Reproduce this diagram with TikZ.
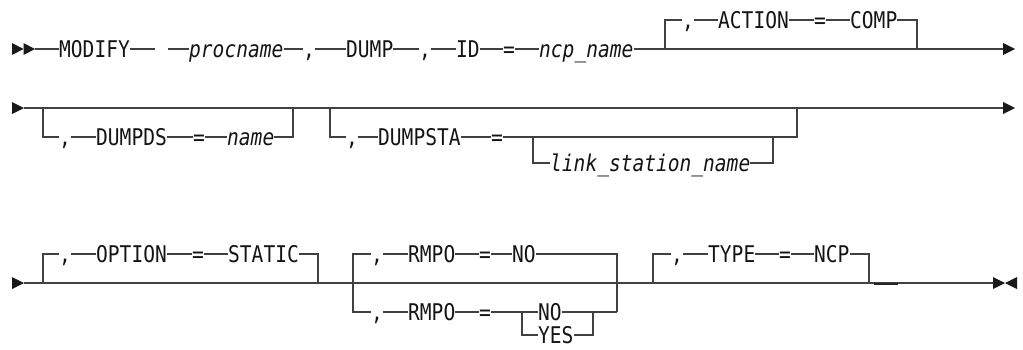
\documentclass[tikz,border=0pt]{standalone}
\usepackage{fontspec}
\newfontfamily\rrfont[FakeStretch=0.85]{DejaVu Sans Mono}
\begin{document}
\begin{tikzpicture}[x=1pt,y=-1pt,
  rr/.style={line width=1.1pt, draw=black!75},
  kw/.style={inner sep=0pt, text height=16.6pt, text depth=0pt, text=black!92,
    font={\rrfont\fontsize{23}{25}\selectfont}, anchor=west},
  var/.style={kw, font={\rrfont\itshape\fontsize{23}{25}\selectfont}},
  sym/.style={kw, anchor=center},
  tri/.style={fill=black!90, draw=none}]
\useasboundingbox (0,0) rectangle (1023,349);

% ---------------- Row 1 ----------------
\fill[tri] (12,43)--(23.5,49)--(12,55)--cycle;
\fill[tri] (23.5,43)--(35,49)--(23.5,55)--cycle;
\coordinate (s1) at (35,49);
\node[kw] (modify) at (59,49) {MODIFY};
\coordinate (g1a) at (155,49);
\coordinate (g1b) at (168,49);
\node[var] (procname) at (189,49) {procname};
\node[sym] (c1) at (309,49) {,};
\node[kw] (dump) at (346,49) {DUMP};
\node[sym] (c2) at (425,49) {,};
\node[kw] (id) at (456,49) {ID};
\node[sym] (e1) at (509,49) {=};
\node[var] (ncp) at (539,49) {ncp\_name};
\coordinate (end1) at (1003,49);
\draw[rr] (s1) -- (modify);
\draw[rr] (modify) -- (g1a);
\draw[rr] (g1b) -- (procname);
\draw[rr] (procname) -- (c1);
\draw[rr] (c1) -- (dump);
\draw[rr] (dump) -- (c2);
\draw[rr] (c2) -- (id);
\draw[rr] (id) -- (e1);
\draw[rr] (e1) -- (ncp);
\draw[rr] (ncp) -- (end1);
\fill[tri] (1003,43)--(1015,49)--(1003,55)--cycle;
% ACTION branch
\coordinate (b1l) at (665,49);
\coordinate (b1lt) at (665,20);
\coordinate (b1rt) at (917,20);
\coordinate (b1r) at (917,49);
\node[sym] (c3) at (688,20) {,};
\node[kw] (action) at (718,20) {ACTION};
\node[sym] (e2) at (820,20) {=};
\node[kw] (comp) at (850,20) {COMP};
\draw[rr] (b1l) -- (b1lt) -- (c3);
\draw[rr] (c3) -- (action);
\draw[rr] (action) -- (e2);
\draw[rr] (e2) -- (comp);
\draw[rr] (comp) -- (b1rt) -- (b1r);

% ---------------- Row 2 ----------------
\fill[tri] (12,102)--(24,108)--(12,114)--cycle;
\coordinate (s2) at (24,108);
\coordinate (end2) at (1003,108);
\draw[rr] (s2) -- (end2);
\fill[tri] (1003,102)--(1015,108)--(1003,114)--cycle;
% DUMPDS branch
\coordinate (b2l) at (43,108);
\coordinate (b2lb) at (43,137);
\coordinate (b2rb) at (293,137);
\coordinate (b2r) at (293,108);
\node[sym] (c4) at (65,137) {,};
\node[kw] (dumpds) at (96,137) {DUMPDS};
\node[sym] (e3) at (199,137) {=};
\node[var] (name) at (227,137) {name};
\draw[rr] (b2l) -- (b2lb) -- (c4);
\draw[rr] (c4) -- (dumpds);
\draw[rr] (dumpds) -- (e3);
\draw[rr] (e3) -- (name);
\draw[rr] (name) -- (b2rb) -- (b2r);
% DUMPSTA branch
\coordinate (b3l) at (330,108);
\coordinate (b3lb) at (330,137);
\coordinate (b3rb) at (797,137);
\coordinate (b3r) at (797,108);
\node[sym] (c5) at (352,137) {,};
\node[kw] (dumpsta) at (378,137) {DUMPSTA};
\node[sym] (e4) at (497,137) {=};
\draw[rr] (b3l) -- (b3lb) -- (c5);
\draw[rr] (c5) -- (dumpsta);
\draw[rr] (dumpsta) -- (e4);
\draw[rr] (e4) -- (b3rb) -- (b3r);
% link_station_name
\coordinate (b4l) at (533,137);
\coordinate (b4lb) at (533,163);
\coordinate (b4rb) at (773,163);
\coordinate (b4r) at (773,137);
\node[var] (lsn) at (550,163) {link\_station\_name};
\draw[rr] (b4l) -- (b4lb) -- (lsn);
\draw[rr] (lsn) -- (b4rb) -- (b4r);

% ---------------- Row 3 ----------------
\fill[tri] (12,277)--(24,283)--(12,289)--cycle;
\coordinate (s3) at (24,283);
\coordinate (end3) at (993,283);
\draw[rr] (s3) -- (end3);
\fill[tri] (993,277)--(1005,283)--(993,289)--cycle;
\fill[tri] (1017,277)--(1005,283)--(1017,289)--cycle;
\draw[line width=2pt, black!85] (874,284) -- (898,284);
% OPTION branch
\coordinate (b5l) at (43,283);
\coordinate (b5lt) at (43,254);
\coordinate (b5rt) at (318,254);
\coordinate (b5r) at (318,283);
\node[sym] (c6) at (65,254) {,};
\node[kw] (option) at (96,254) {OPTION};
\node[sym] (e5) at (198,254) {=};
\node[kw] (static) at (228,254) {STATIC};
\draw[rr] (b5l) -- (b5lt) -- (c6);
\draw[rr] (c6) -- (option);
\draw[rr] (option) -- (e5);
\draw[rr] (e5) -- (static);
\draw[rr] (static) -- (b5rt) -- (b5r);
% RMPO branch
\coordinate (b6lt) at (353,254);
\coordinate (b6lb) at (353,312);
\coordinate (b6rt) at (617,254);
\coordinate (b6rb) at (617,312);
\node[sym] (c7) at (377,254) {,};
\node[kw] (rmpo1) at (408,254) {RMPO};
\node[sym] (e6) at (485,254) {=};
\node[kw] (no1) at (512,254) {NO};
\node[sym] (c8) at (377,312) {,};
\node[kw] (rmpo2) at (408,312) {RMPO};
\node[sym] (e7) at (485,312) {=};
\node[kw] (no2) at (538,312) {NO};
\node[kw] (yes) at (538,335) {YES};
\draw[rr] (c7) -- (b6lt) -- (b6lb) -- (c8);
\draw[rr] (c7) -- (rmpo1);
\draw[rr] (rmpo1) -- (e6);
\draw[rr] (e6) -- (no1);
\draw[rr] (no1) -- (b6rt) -- (b6rb);
\draw[rr] (c8) -- (rmpo2);
\draw[rr] (rmpo2) -- (e7);
\draw[rr] (e7) -- (no2);
\draw[rr] (no2) -- (b6rb);
\coordinate (b7l) at (522,312);
\coordinate (b7lb) at (522,335);
\coordinate (b7rb) at (593,335);
\coordinate (b7r) at (593,312);
\draw[rr] (b7l) -- (b7lb) -- (yes);
\draw[rr] (yes) -- (b7rb) -- (b7r);
% TYPE branch
\coordinate (b8l) at (653,283);
\coordinate (b8lt) at (653,254);
\coordinate (b8rt) at (869,254);
\coordinate (b8r) at (869,283);
\node[sym] (c9) at (677,254) {,};
\node[kw] (type) at (708,254) {TYPE};
\node[sym] (e8) at (785,254) {=};
\node[kw] (ncpv) at (814,254) {NCP};
\draw[rr] (b8l) -- (b8lt) -- (c9);
\draw[rr] (c9) -- (type);
\draw[rr] (type) -- (e8);
\draw[rr] (e8) -- (ncpv);
\draw[rr] (ncpv) -- (b8rt) -- (b8r);
\end{tikzpicture}
\end{document}
